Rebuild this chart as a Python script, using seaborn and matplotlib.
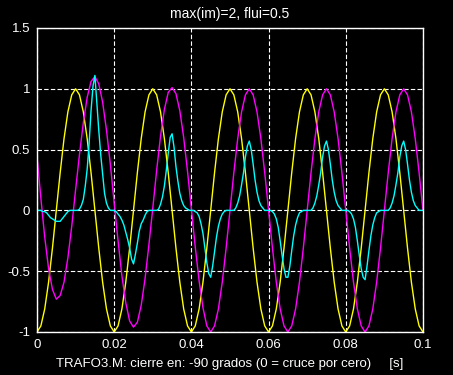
import numpy as np
import pandas as pd
import matplotlib
matplotlib.use("Agg")
import matplotlib.pyplot as plt
import seaborn as sns

t_coarse = [round(k * 0.001, 4) for k in range(101)]
one_cycle_v = [-1, -0.95, -0.81, -0.59, -0.31, 0, 0.31, 0.59, 0.81, 0.95,
               1, 0.95, 0.81, 0.59, 0.31, 0, -0.31, -0.59, -0.81, -0.95]
tension = one_cycle_v * 5 + [-1]

flujo = [0.45, 0.10, -0.22, -0.48, -0.65, -0.73, -0.70, -0.59, -0.39, -0.13,
         0.17, 0.46, 0.72, 0.93, 1.06, 1.10, 1.04, 0.89, 0.66, 0.38,
         0.06, -0.25, -0.54, -0.76, -0.91, -0.96, -0.92, -0.78, -0.56, -0.28,
         0.02, 0.33, 0.61, 0.83, 0.97, 1.01, 0.96, 0.82, 0.60, 0.32,
         0.01, -0.30, -0.58, -0.80, -0.95, -1.00, -0.95, -0.81, -0.59, -0.31,
         0.00, 0.31, 0.59, 0.81, 0.95, 1.00, 0.95, 0.81, 0.59, 0.31,
         0.00, -0.31, -0.59, -0.81, -0.95, -1.00, -0.95, -0.81, -0.59, -0.31,
         0.00, 0.31, 0.59, 0.81, 0.95, 1.00, 0.95, 0.81, 0.59, 0.31,
         0.00, -0.31, -0.59, -0.81, -0.95, -1.00, -0.95, -0.81, -0.59, -0.31,
         0.00, 0.31, 0.59, 0.81, 0.95, 1.00, 0.95, 0.81, 0.59, 0.31,
         0.00]

# corriente de magnetizacion (cyan): sampled every 0.5 ms
t_fine = [round(k * 0.0005, 5) for k in range(201)]
corriente = [0.00, 0.00, 0.00, -0.01, -0.01, -0.02, -0.04, -0.06, -0.07, -0.08,
             -0.09, -0.09, -0.09, -0.07, -0.05, -0.03, -0.01, 0.00, 0.00, 0.00,
             0.00, 0.00, 0.01, 0.04, 0.09, 0.20, 0.34, 0.55, 0.82, 1.02,
             1.11, 0.88, 0.66, 0.46, 0.30, 0.14, 0.06, 0.02, 0.00, 0.00,
             0.00, -0.01, -0.03, -0.05, -0.08, -0.12, -0.18, -0.24, -0.31, -0.40,
             -0.44, -0.36, -0.27, -0.17, -0.11, -0.08, -0.04, -0.01, 0.00, 0.00,
             0.00, 0.00, 0.00, 0.01, 0.05, 0.11, 0.20, 0.33, 0.47, 0.60,
             0.63, 0.52, 0.36, 0.24, 0.14, 0.08, 0.04, 0.02, 0.01, 0.00,
             0.00, 0.00, -0.01, -0.02, -0.05, -0.11, -0.19, -0.31, -0.43, -0.52,
             -0.55, -0.46, -0.34, -0.22, -0.13, -0.07, -0.03, -0.01, 0.00, 0.00,
             0.00, 0.00, 0.00, 0.02, 0.06, 0.12, 0.21, 0.31, 0.44, 0.53,
             0.57, 0.50, 0.38, 0.25, 0.15, 0.08, 0.04, 0.02, 0.00, 0.00,
             0.00, 0.00, -0.01, -0.03, -0.07, -0.14, -0.25, -0.37, -0.48, -0.55,
             -0.55, -0.46, -0.33, -0.21, -0.12, -0.06, -0.02, -0.01, 0.00, 0.00,
             0.00, 0.00, 0.00, 0.02, 0.06, 0.12, 0.21, 0.31, 0.44, 0.53,
             0.57, 0.50, 0.38, 0.25, 0.15, 0.08, 0.04, 0.02, 0.00, 0.00,
             0.00, 0.00, -0.01, -0.03, -0.07, -0.14, -0.25, -0.37, -0.48, -0.55,
             -0.57, -0.46, -0.33, -0.21, -0.12, -0.06, -0.02, -0.01, 0.00, 0.00,
             0.00, 0.00, 0.00, 0.02, 0.06, 0.12, 0.21, 0.31, 0.44, 0.53,
             0.57, 0.50, 0.38, 0.25, 0.15, 0.08, 0.04, 0.02, 0.00, 0.00,
             0.00]

xticks = [0, 0.02, 0.04, 0.06, 0.08, 0.1]
xticklabels = ["0", "0.02", "0.04", "0.06", "0.08", "0.1"]
yticks = [-1, -0.5, 0, 0.5, 1, 1.5]
yticklabels = ["-1", "-0.5", "0", "0.5", "1", "1.5"]

titulo = "max(im)=2, flui=0.5"
etiqueta_x = "TRAFO3.M: cierre en: -90 grados (0 = cruce por cero)     [s]"

df_coarse = pd.DataFrame({"t": t_coarse, "tension": tension, "flujo": flujo})
df_fine = pd.DataFrame({"t": t_fine, "corriente": corriente})

sns.set_style("dark")
plt.rcParams["font.family"] = ["Liberation Sans", "DejaVu Sans"]

fig = plt.figure(figsize=(4.53, 3.75), dpi=100, facecolor="black")
ax = fig.add_axes([0.0817, 0.1147, 0.852, 0.8107])
ax.set_facecolor("black")

sns.lineplot(data=df_coarse, x="t", y="tension", color="#ffff00", lw=1.0, ax=ax)
sns.lineplot(data=df_coarse, x="t", y="flujo", color="#ff00ff", lw=1.0, ax=ax)
sns.lineplot(data=df_fine, x="t", y="corriente", color="#00ffff", lw=1.0, ax=ax)

ax.set_xlim(0, 0.1)
ax.set_ylim(-1, 1.5)
ax.set_xticks(xticks)
ax.set_xticklabels(xticklabels)
ax.set_yticks(yticks)
ax.set_yticklabels(yticklabels)
ax.tick_params(colors="white", direction="in", length=4, labelsize=9.5, pad=5)
ax.grid(True, color="white", linestyle=(0, (4, 2)), linewidth=0.8)
for s in ax.spines.values():
    s.set_color("white")
    s.set_linewidth(1.0)
    s.set_visible(True)

ax.set_title(titulo, color="white", fontsize=10, pad=7)
ax.set_xlabel(etiqueta_x, color="white", fontsize=9.5, labelpad=5)
ax.set_ylabel("")

fig.savefig("out.png", dpi=100, facecolor="black")
